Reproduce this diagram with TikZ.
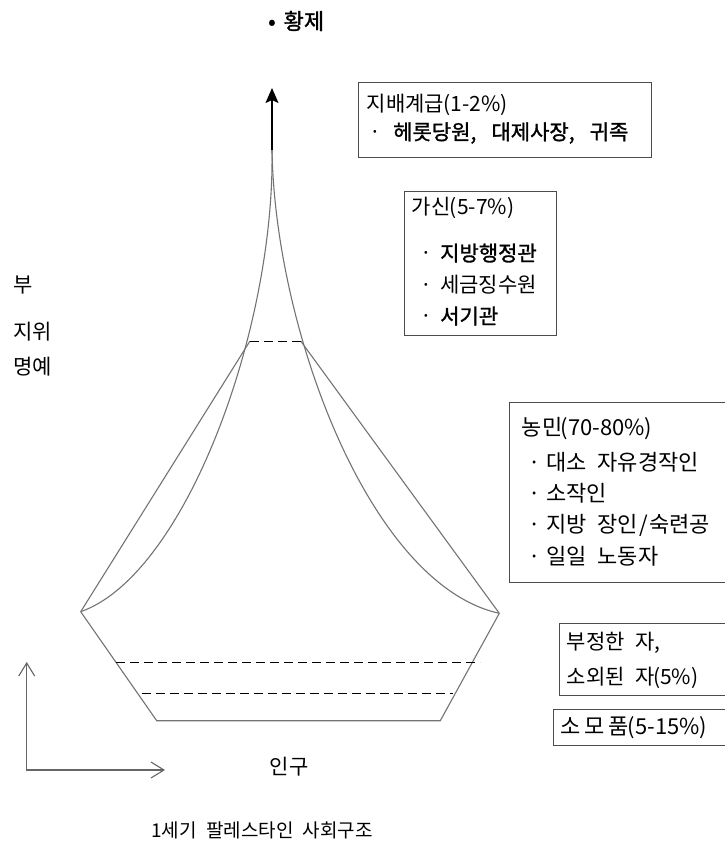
\documentclass[tikz,border=0pt]{standalone}
\usepackage{fontspec}
\setmainfont{Noto Sans CJK KR}
\newfontfamily\krbold{Noto Sans CJK KR}[FakeBold=1.4]
\usetikzlibrary{arrows.meta}
\newcommand{\hs}{\hspace{0.5em}}
\newcommand{\hl}[2]{\makebox[#1em][c]{#2}}
\newcommand{\hc}[2]{\makebox[#1em][l]{#2}}
\begin{document}
\begin{tikzpicture}[x=1pt,y=-1pt,
  shapeline/.style={draw=black!55, line width=1.1pt},
  dashline/.style={draw=black, line width=0.9pt, dash pattern=on 9pt off 5pt},
  axisline/.style={draw=black!60, line width=1.1pt},
  box/.style={draw=black!70, line width=1.1pt, anchor=north west, inner sep=0pt},
  txt/.style={anchor=west, inner sep=0pt, font=\fontsize{21}{25}\selectfont},
  txtb/.style={txt, font=\fontsize{22}{26}\selectfont},
]
\useasboundingbox (0,0) rectangle (725,847);

% pyramid coordinates
\coordinate (L) at (80.7,611.7);
\coordinate (R) at (499.3,613.3);
\coordinate (TL) at (250,341);
\coordinate (TR) at (300.7,341);
\coordinate (apex) at (272,150);
\coordinate (tip) at (272,88);
\coordinate (BL) at (156.7,720.7);
\coordinate (BR) at (440.3,720.7);
\coordinate (d1a) at (116,662.3);
\coordinate (d1b) at (480,662.3);
\coordinate (d2a) at (141.7,693.3);
\coordinate (d2b) at (453.3,693.3);

\draw[shapeline] (L) -- (TL);
\draw[shapeline] (TR) -- (R);
\draw[shapeline] (L) .. controls (185,575) and (275,330) .. (apex);
\draw[shapeline] (R) .. controls (370,585) and (275,330) .. (apex);
\draw[draw=black, line width=1.6pt, -{Stealth[length=15pt,width=13pt,inset=3pt]}] (apex) -- (tip);
\draw[dashline] (TL) -- (TR);
\draw[shapeline] (L) -- (BL) -- (BR) -- (R);
\draw[dashline] (d1a) -- (d1b);
\draw[dashline] (d2a) -- (d2b);

% axes
\coordinate (O) at (26.7,770);
\coordinate (Ytip) at (26.7,662);
\coordinate (Xtip) at (165,770);
\draw[axisline, {Straight Barb[length=13pt,width=16pt]}-{Straight Barb[length=13pt,width=16pt]}] (Ytip) -- (O) -- (Xtip);

% title
\node[txt, font=\fontsize{22}{26}\selectfont\krbold] (emp) at (268,21) {•\hspace{8pt}황제};

% left labels
\node[txt] (l1) at (13,285) {부};
\node[txt] (l2) at (13,332) {지위};
\node[txt] (l3) at (13,367) {명예};

% box 1
\node[box, minimum width=292.7pt, minimum height=75.6pt] (b1) at (358.3,81.7) {};
\node[txt] (b1t1) at (366.7,105) {지배계급\hl{3}{(1-2\%)}};
\node[txt] (b1t2) at (369,133) {\makebox[24pt][l]{·}\krbold 헤롯당원\hc{0.5}{,}\hs 대제사장\hc{0.5}{,}\hs 귀족};

% box 2
\node[box, minimum width=152pt, minimum height=144pt] (b2) at (404,191) {};
\node[txt] (b2t1) at (411.7,208) {가신\hl{3}{(5-7\%)}};
\node[txt] (b2t2) at (420,253) {\makebox[20pt][l]{·}\krbold 지방행정관};
\node[txt] (b2t3) at (420,285) {\makebox[20pt][l]{·}세금징수원};
\node[txt] (b2t4) at (420,316) {\makebox[20pt][l]{·}\krbold 서기관};

% box 3
\node[box, minimum width=230pt, minimum height=180pt] (b3) at (509.3,401.7) {};
\node[txtb] (b3t1) at (521.7,428.3) {농민\hl{4}{(70-80\%)}};
\node[txtb] (b3t2) at (528,462) {\makebox[18pt][l]{·}대소\hs 자유경작인};
\node[txtb] (b3t3) at (528,493) {\makebox[18pt][l]{·}소작인};
\node[txtb] (b3t4) at (528,525) {\makebox[18pt][l]{·}지방\hs 장인\hl{0.5}{/}숙련공};
\node[txtb] (b3t5) at (528,556) {\makebox[18pt][l]{·}일일\hs 노동자};

% box 4
\node[box, minimum width=180pt, minimum height=71.7pt] (b4) at (559.3,623.3) {};
\node[txt] (b4t1) at (566.7,642.7) {부정한\hs 자\hc{0.5}{,}};
\node[txt] (b4t2) at (566.7,678.3) {소외된\hs 자\hl{2}{(5\%)}};

% box 5
\node[box, minimum width=180pt, minimum height=36pt] (b5) at (552.7,709.3) {};
\node[txtb] (b5t1) at (560,728) {소\hspace{4pt}모\hspace{4pt}품\hl{3.5}{(5-15\%)}};

% axis label and caption
\node[txt, anchor=center] (pop) at (289,767) {인구};
\node[txt, anchor=center, font=\fontsize{19}{23}\selectfont] (cap) at (262,830) {1세기\hs 팔레스타인\hs 사회구조};
\end{tikzpicture}
\end{document}
